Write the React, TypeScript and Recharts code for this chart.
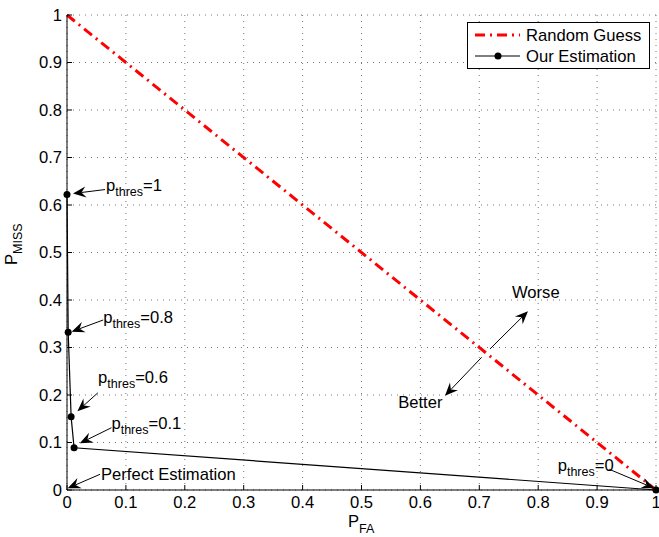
import React from "react";
import {
  LineChart,
  Line,
  XAxis,
  YAxis,
  CartesianGrid,
  ReferenceDot,
  Legend,
  Label,
} from "recharts";

// values
const axisTicks = [0, 0.1, 0.2, 0.3, 0.4, 0.5, 0.6, 0.7, 0.8, 0.9, 1];
const guessFA = [0, 1];
const guessMiss = [1, 0];
const estFA = [0, 0.002, 0.007, 0.012, 1];
const estMiss = [0.622, 0.332, 0.154, 0.089, 0];
const thresholds = ["1", "0.8", "0.6", "0.1", "0"];

const guessData = guessFA.map((x, i) => ({ x, y: guessMiss[i] }));
const estData = estFA.map((x, i) => ({ x, y: estMiss[i] }));

const FONT = "'Liberation Sans', Arial, Helvetica, sans-serif";
const FS = 16.6;
const SUB = 12.5;
const RED_DASH = "10 5 2 5";

function Arrow({ x1, y1, x2, y2 }: { x1: number; y1: number; x2: number; y2: number }) {
  const dx = x2 - x1;
  const dy = y2 - y1;
  const len = Math.hypot(dx, dy);
  const ux = dx / len;
  const uy = dy / len;
  const L = 13;
  const W = 5.5;
  const N = 8.5;
  const bx = x2 - ux * L;
  const by = y2 - uy * L;
  const nx = x2 - ux * N;
  const ny = y2 - uy * N;
  const pts = `${x2},${y2} ${bx - uy * W},${by + ux * W} ${nx},${ny} ${bx + uy * W},${by - ux * W}`;
  return (
    <g>
      <line x1={x1} y1={y1} x2={nx} y2={ny} stroke="#000" strokeWidth={1} />
      <polygon points={pts} fill="#000" />
    </g>
  );
}

function Thres({ x, y, value }: { x: number; y: number; value: string }) {
  return (
    <text x={x} y={y} fontSize={FS} fontFamily={FONT} fill="#000">
      p
      <tspan dy={5} fontSize={SUB}>thres</tspan>
      <tspan dy={-5} fontSize={FS}>={value}</tspan>
    </text>
  );
}

// builds a ReferenceDot shape: arrow from (tail) to (tip) relative to the point, plus a label
function note(
  value: string | null,
  tip: [number, number],
  tail: [number, number],
  txt: [number, number],
  plain?: string
) {
  return (props: any) => {
    const { cx, cy } = props;
    return (
      <g>
        <Arrow x1={cx + tail[0]} y1={cy + tail[1]} x2={cx + tip[0]} y2={cy + tip[1]} />
        {value !== null ? (
          <Thres x={cx + txt[0]} y={cy + txt[1]} value={value} />
        ) : (
          <text x={cx + txt[0]} y={cy + txt[1]} fontSize={FS} fontFamily={FONT} fill="#000">
            {plain}
          </text>
        )}
      </g>
    );
  };
}

const worseBetter = (props: any) => {
  const { cx, cy } = props;
  return (
    <g>
      <Arrow x1={cx + 4.8} y1={cy - 3.3} x2={cx + 42.8} y2={cy - 41} />
      <Arrow x1={cx - 3.5} y1={cy + 5} x2={cx - 40.2} y2={cy + 43.5} />
      <text x={cx + 26.8} y={cy - 54} fontSize={FS} fontFamily={FONT} fill="#000">Worse</text>
      <text x={cx - 87} y={cy + 56} fontSize={FS} fontFamily={FONT} fill="#000">Better</text>
    </g>
  );
};

const YTick = (props: any) => {
  const { x, y, payload } = props;
  return (
    <g>
      <line x1={x} y1={y} x2={x + 5} y2={y} stroke="#000" />
      <text x={x - 5} y={y} dy={5.8} textAnchor="end" fontSize={FS} fontFamily={FONT} fill="#000">
        {payload.value}
      </text>
    </g>
  );
};

const XTick = (props: any) => {
  const { x, y, payload } = props;
  return (
    <g>
      <line x1={x} y1={y} x2={x} y2={y - 5} stroke="#000" />
      <text x={x} y={y + 18} textAnchor="middle" fontSize={FS} fontFamily={FONT} fill="#000">
        {payload.value}
      </text>
    </g>
  );
};

const renderLegend = () => (
  <svg width={183} height={47} style={{ display: "block" }}>
    <rect x={0.5} y={0.5} width={182} height={46} fill="#fff" stroke="#000" />
    <line x1={8} x2={53} y1={13} y2={13} stroke="#ff0000" strokeWidth={3} strokeDasharray={RED_DASH} />
    <text x={59} y={19} fontSize={FS} fontFamily={FONT} fill="#000">Random Guess</text>
    <line x1={8} x2={53} y1={34} y2={34} stroke="#000" strokeWidth={1.2} />
    <circle cx={31} cy={34} r={3.5} fill="#000" />
    <text x={59} y={40} fontSize={FS} fontFamily={FONT} fill="#000">Our Estimation</text>
  </svg>
);

export default function App() {
  return (
    <div style={{ position: "absolute", left: 0, top: 0, width: 659, height: 537, background: "#fff", fontFamily: FONT }}>
      <LineChart width={659} height={537} margin={{ top: 15, right: 3, left: 0, bottom: 0 }}>
        <CartesianGrid stroke="#777" strokeDasharray="1 5" />
        <XAxis
          dataKey="x"
          type="number"
          domain={[0, 1]}
          ticks={axisTicks}
          height={47}
          tickSize={0}
          tickMargin={0}
          tickLine={false}
          axisLine={{ stroke: "#000" }}
          tick={<XTick />}
          interval={0}
        >
          <Label
            content={() => (
              <text x={348} y={527} fontSize={FS} fontFamily={FONT} fill="#000">
                P<tspan dy={6} fontSize={SUB}>FA</tspan>
              </text>
            )}
          />
        </XAxis>
        <YAxis
          dataKey="y"
          type="number"
          domain={[0, 1]}
          ticks={axisTicks}
          width={67}
          tickSize={0}
          tickMargin={0}
          tickLine={false}
          axisLine={{ stroke: "#000" }}
          tick={<YTick />}
          interval={0}
        >
          <Label
            content={() => (
              <text x={17} y={265} transform="rotate(-90, 17, 265)" fontSize={FS} fontFamily={FONT} fill="#000">
                P<tspan dy={5} fontSize={SUB}>MISS</tspan>
              </text>
            )}
          />
        </YAxis>
        <Legend
          layout="vertical"
          align="center"
          verticalAlign="middle"
          content={renderLegend}
          wrapperStyle={{ left: 467, top: 22, width: 183, height: 47 }}
        />
        <Line
          data={guessData}
          dataKey="y"
          stroke="#ff0000"
          strokeWidth={3}
          strokeDasharray={RED_DASH}
          dot={false}
          activeDot={false}
          isAnimationActive={false}
          name="Random Guess"
        />
        <Line
          data={estData}
          dataKey="y"
          stroke="#000"
          strokeWidth={1.2}
          dot={{ r: 3.5, fill: "#000", stroke: "#000", strokeWidth: 0 }}
          activeDot={false}
          isAnimationActive={false}
          name="Our Estimation"
        />
        <ReferenceDot x={estFA[0]} y={estMiss[0]} r={0} shape={note(thresholds[0], [6, -1], [38, -5], [39, -4])} />
        <ReferenceDot x={estFA[1]} y={estMiss[1]} r={0} shape={note(thresholds[1], [3.4, -0.6], [35, -12.3], [35, -9.6])} />
        <ReferenceDot x={estFA[2]} y={estMiss[2]} r={0} shape={note(thresholds[2], [6.3, -5.7], [26.7, -24], [27, -33.4])} />
        <ReferenceDot x={estFA[3]} y={estMiss[3]} r={0} shape={note(thresholds[3], [5.7, -4.4], [37.4, -20], [37.4, -18.4])} />
        <ReferenceDot x={estFA[4]} y={estMiss[4]} r={0} shape={note(thresholds[4], [-1.7, -1.7], [-46.7, -20.7], [-98.3, -19.3])} />
        <ReferenceDot x={0} y={0} r={0} shape={note(null, [0.7, -1.7], [33, -15.7], [34, -10], "Perfect Estimation")} />
        <ReferenceDot x={0.71} y={0.29} r={0} shape={worseBetter} />
      </LineChart>
    </div>
  );
}
